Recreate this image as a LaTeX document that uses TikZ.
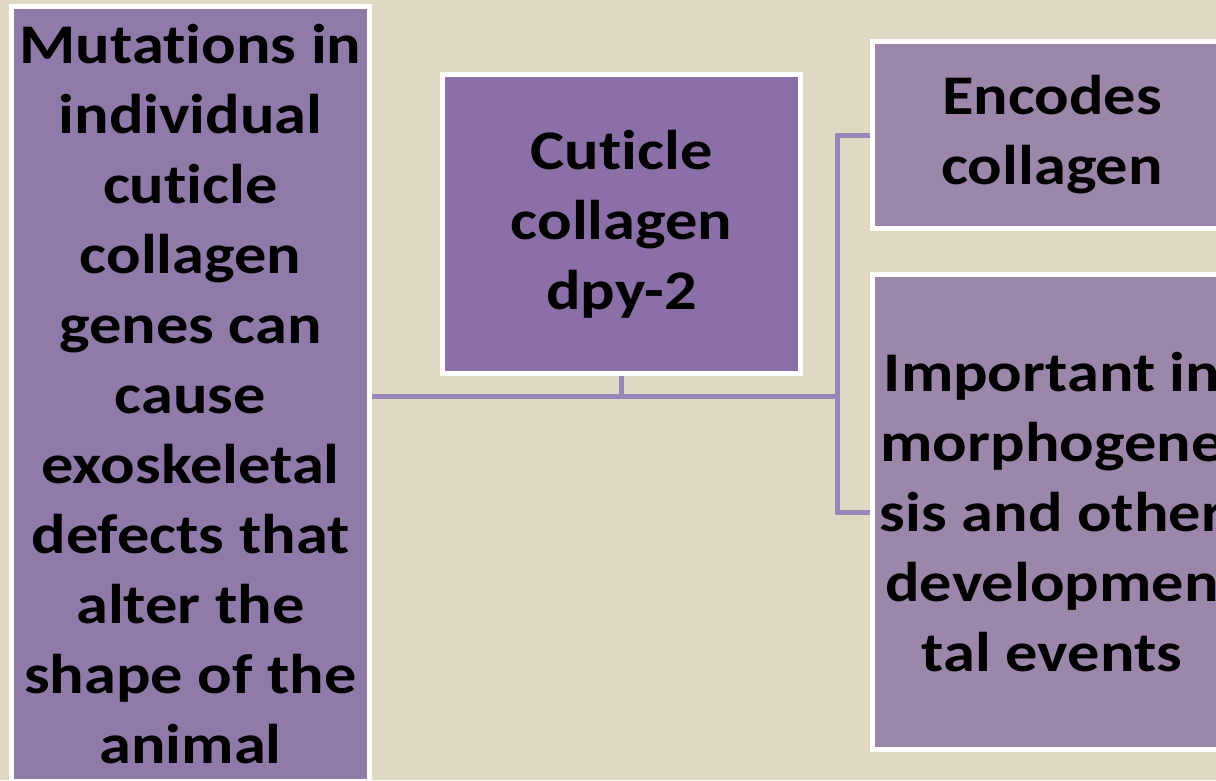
\documentclass[tikz,border=0pt]{standalone}
\usepackage{fontspec}
\setmainfont{Carlito}[FakeStretch=1.15, Ligatures={NoCommon}]
\definecolor{sfondo}{HTML}{DFD9C3}
\definecolor{viola}{HTML}{8F7AA9}
\definecolor{violascuro}{HTML}{8A70A6}
\definecolor{violachiaro}{HTML}{9C87AB}
\definecolor{linea}{HTML}{9A86B6}
\begin{document}
\begin{tikzpicture}[x=1pt,y=-1pt,
    box/.style={draw=white, line width=5pt, align=center, inner sep=0pt,
        font=\fontsize{56}{70}\selectfont\bfseries, text=black},
    link/.style={draw=linea, line width=5pt}]
    % Sfondo
    \clip (0,0) rectangle (1216,780);
    \fill[sfondo] (0,0) rectangle (1216,780);
    % Riquadri
    \node[box, fill=viola, minimum width=358pt, minimum height=775pt] (mut) at (190.5,394)
        {Mutations in\\individual\\cuticle\\collagen\\genes can\\cause\\exoskeletal\\defects that\\alter the\\shape of the\\animal};
    \node[box, fill=violascuro, minimum width=358pt, minimum height=299pt] (cut) at (621.5,224)
        {Cuticle\\collagen\\dpy-2};
    \node[box, fill=violachiaro, minimum width=359pt, minimum height=187pt] (enc) at (1052,135)
        {Encodes\\collagen};
    \node[box, fill=violachiaro, minimum width=359pt, minimum height=475pt] (imp) at (1052,512)
        {Important in\\morphogene\\sis and other\\developmen\\tal events};
    % Coordinate
    \coordinate (bus) at (837,396);
    % Linee
    \draw[link] (mut.east |- bus) -- (bus);
    \draw[link] (cut.south) -- (cut.south |- bus);
    \draw[link] (enc.west) -| (bus) |- (imp.west);
\end{tikzpicture}
\end{document}
